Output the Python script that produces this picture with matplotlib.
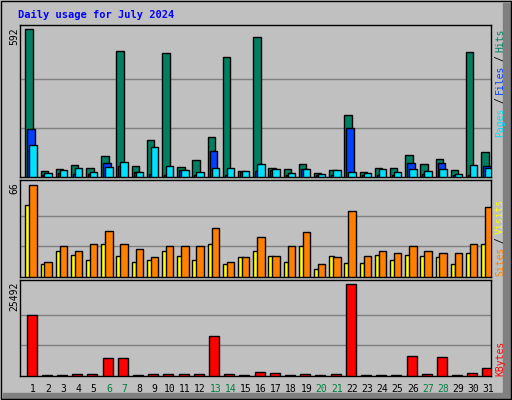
import matplotlib
matplotlib.use("Agg")
import matplotlib.pyplot as plt
from matplotlib.patches import Rectangle

days = list(range(1, 32))
hits  = [592,25,33,50,38,86,504,46,150,496,42,70,162,480,25,560,38,33,54,17,29,250,21,38,38,90,54,74,29,500,102]
files = [194,10,16,12,12,58,45,21,13,10,29,10,106,8,19,25,29,10,33,10,10,198,10,10,10,58,13,58,10,10,46]
pages = [130,17,29,37,21,42,62,21,122,46,29,21,38,38,25,54,33,17,33,13,29,21,17,33,21,33,25,33,13,50,38]
sites = [52,9,19,16,12,24,15,11,12,19,15,12,24,9,14,19,15,11,22,6,15,10,10,16,12,16,15,14,9,17,24]
visits = [66,11,22,19,24,33,24,20,14,22,22,22,35,11,14,29,15,22,32,9,14,47,15,19,17,22,19,17,17,24,50]
kbytes = [17060,280,280,560,560,5100,5100,280,560,560,560,560,11220,560,280,1200,930,280,560,280,560,25492,280,280,280,5650,560,5380,280,930,2320]
weekend = {6,7,13,14,20,21,27,28}
max_hits, max_visits, max_kb = 592, 66, 25492

W, H = 512, 400
fig = plt.figure(figsize=(W/100, H/100), dpi=100)
fig.patch.set_facecolor("#C0C0C0")
bg = fig.add_axes([0, 0, 1, 1]); bg.set_xlim(0, W); bg.set_ylim(H, 0); bg.axis("off")
bg.add_patch(Rectangle((503, 3), 9, 397, color="#808080"))
bg.add_patch(Rectangle((3, 393), 509, 7, color="#808080"))
bg.add_patch(Rectangle((0.5, 0.5), 510, 398, fill=False, ec="black", lw=1))
bg.text(18, 15, "Daily usage for July 2024", color="#0000FF", fontsize=7.5, fontweight="bold",
        family="DejaVu Sans Mono", va="center", ha="left")

mono = "DejaVu Sans Mono"
X0, X1 = 20, 491
def panel(ytop, ybot):
    ax = fig.add_axes([X0/W, 1-ybot/H, (X1-X0)/W, (ybot-ytop)/H])
    ax.set_facecolor("#C0C0C0")
    ax.set_xlim(0, 31)
    ax.set_xticks([]); ax.set_yticks([])
    for s in ax.spines.values(): s.set_color("black"); s.set_linewidth(1)
    return ax

x = [d-1 for d in days]
kw = dict(align="edge", ec="black", lw=1, zorder=3)

ax1 = panel(25, 177)
ax1.set_ylim(0, max_hits*152/147.7)
for g in (max_hits/3, 2*max_hits/3): ax1.axhline(g, color="#808080", lw=1, zorder=1)
ax1.bar([v+0.35 for v in x], hits, 0.49, color="#008060", **kw)
ax1.bar([v+0.48 for v in x], files, 0.49, color="#0040FF", **kw)
ax1.bar([v+0.61 for v in x], pages, 0.49, color="#00E0FF", **kw)

ax2 = panel(180, 277)
ax2.set_ylim(0, max_visits*97/92)
for g in (max_visits/3, 2*max_visits/3): ax2.axhline(g, color="#808080", lw=1, zorder=1)
ax2.bar([v+0.35 for v in x], sites, 0.31, color="#FFFF00", **kw)
ax2.bar([v+0.61 for v in x], visits, 0.49, color="#FF8000", **kw)

ax3 = panel(280, 376)
ax3.set_ylim(0, max_kb*96/91.7)
for g in (max_kb/3, 2*max_kb/3): ax3.axhline(g, color="#808080", lw=1, zorder=1)
ax3.bar([v+0.44 for v in x], kbytes, 0.66, color="#FF0000", **kw)

fs = 7
bg.text(14, 27, str(max_hits), rotation=90, fontsize=fs, family=mono, ha="center", va="top")
bg.text(14, 182, str(max_visits), rotation=90, fontsize=fs, family=mono, ha="center", va="top")
bg.text(14, 282, str(max_kb), rotation=90, fontsize=fs, family=mono, ha="center", va="top")

for txt, yc, col in [("Hits", 40, "#008060"), ("/", 58, "black"), ("Files", 79, "#0040FF"),
                     ("/", 100, "black"), ("Pages", 122, "#00E0FF"),
                     ("Visits", 216, "#FFFF00"), ("/", 240, "black"), ("Sites", 261, "#FF8000"),
                     ("KBytes", 358, "#FF0000")]:
    bg.text(500, yc, txt, rotation=90, fontsize=fs, family=mono, color=col, ha="center", va="center")

slot = (X1-X0)/31
for d in days:
    bg.text(X0 + (d-1+0.85)*slot, 389, str(d), fontsize=fs, family=mono, ha="center", va="center",
            color="#008040" if d in weekend else "black")

fig.savefig("out.png", dpi=100, facecolor=fig.get_facecolor())
